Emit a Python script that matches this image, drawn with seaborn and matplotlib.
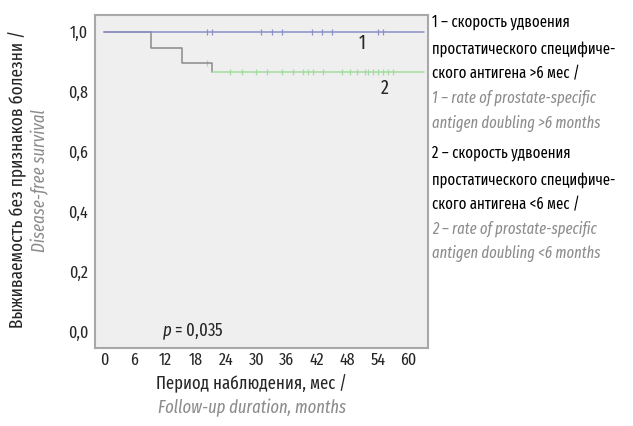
import matplotlib
matplotlib.use("Agg")
import matplotlib.pyplot as plt
import seaborn as sns

# group 1: PSA doubling > 6 months (no events)
g1_time = [0, 63]
g1_surv = [1.0, 1.0]
g1_censor = [20.3, 21.3, 31, 33, 35, 41, 43, 45, 54, 55]

# group 2: PSA doubling < 6 months
g2_time = [0, 9.3, 15.4, 21.3]
g2_surv = [1.0, 0.947, 0.897, 0.867]
g2_tail_time = [21.3, 63]
g2_tail_surv = [0.867, 0.867]
g2_censor_time = [20.3, 24.8, 27.2, 30, 32, 35, 37.2, 39.2, 40.2, 41.1, 43.1,
                  46.8, 48.4, 49.8, 51.4, 52, 53, 54, 55, 56, 57]
g2_censor_surv = [0.897] + [0.867] * 20

x_ticks = [0, 6, 12, 18, 24, 30, 36, 42, 48, 54, 60]
y_ticks = [0.0, 0.2, 0.4, 0.6, 0.8, 1.0]
y_labels = ["0,0", "0,2", "0,4", "0,6", "0,8", "1,0"]

legend_lines = [
    ("1 – скорость удвоения", False),
    ("простатического специфиче-", False),
    ("ского антигена >6 мес /", False),
    ("1 – rate of prostate-specific", True),
    ("antigen doubling >6 months", True),
    ("2 – скорость удвоения", False),
    ("простатического специфиче-", False),
    ("ского антигена <6 мес /", False),
    ("2 – rate of prostate-specific", True),
    ("antigen doubling <6 months", True),
]

sns.set_style("white")
FONT = "Fira Sans Extra Condensed"
plt.rcParams["font.family"] = [FONT, "DejaVu Sans"]
plt.rcParams["mathtext.fontset"] = "custom"
plt.rcParams["mathtext.it"] = FONT + ":italic"
plt.rcParams["mathtext.rm"] = FONT

BLUE = "#8a90c8"
GREEN = "#a3dca0"
GRAY = "#8a8a8a"
TXT_GRAY = "#8c8c8c"
FS = 13
LEG_FS = 11.5

fig = plt.figure(figsize=(6.33, 4.26), dpi=100)
ax = fig.add_axes([0.150, 0.183, 0.526, 0.782])
ax.set_facecolor("#efefef")

sns.lineplot(x=g2_time + [g2_tail_time[0]], y=g2_surv + [g2_tail_surv[0]],
             drawstyle="steps-post", color=GRAY, lw=1.1, ax=ax)
sns.lineplot(x=g2_tail_time, y=g2_tail_surv, drawstyle="steps-post",
             color=GREEN, lw=1.1, ax=ax)
sns.lineplot(x=g1_time, y=g1_surv, drawstyle="steps-post", color=BLUE,
             lw=1.1, ax=ax)
sns.scatterplot(x=g1_censor, y=[1.0] * len(g1_censor), marker="|", s=25,
                color=BLUE, linewidth=0.9, ax=ax)
sns.scatterplot(x=g2_censor_time, y=g2_censor_surv, marker="|", s=25,
                color=GREEN, linewidth=0.9, ax=ax)

ax.set_xlim(-1.8, 63.8)
ax.set_ylim(-0.053, 1.057)
ax.set_xticks(x_ticks)
ax.set_xticklabels([str(t) for t in x_ticks])
ax.set_yticks(y_ticks)
ax.set_yticklabels(y_labels)
ax.tick_params(axis="both", labelsize=FS - 0.5, length=3, width=0.8,
               color=GRAY, pad=2)
ax.tick_params(axis="x", length=0, pad=3)
for s in ax.spines.values():
    s.set_color("#a8a8a8")
    s.set_linewidth(1.5)
ax.set_xlabel("")
ax.set_ylabel("")

ax.text(50.8, 0.962, "1", fontsize=FS + 1, ha="center", va="center")
ax.text(55.3, 0.813, "2", fontsize=FS + 1, ha="center", va="center")
ax.text(11.4, 0.0, "$p$ = 0,035", fontsize=FS, ha="left", va="center")

# axis titles
fig.text(0.028, 0.58, "Выживаемость без признаков болезни /", rotation=90,
         ha="center", va="center", fontsize=FS + 0.5)
fig.text(0.063, 0.575, "Disease-free survival", rotation=90, ha="center",
         va="center", fontsize=FS, style="italic", color=TXT_GRAY)
fig.text(0.398, 0.100, "Период наблюдения, мес /", ha="center", va="center",
         fontsize=FS)
fig.text(0.398, 0.043, "Follow-up duration, months", ha="center",
         va="center", fontsize=FS, style="italic", color=TXT_GRAY)

# legend text block
ys = [22, 49, 74, 98, 123, 153, 180, 205, 229, 254]
for (line, italic), yp in zip(legend_lines, ys):
    fig.text(432 / 633, 1 - yp / 426, line, ha="left", va="center",
             fontsize=LEG_FS, style="italic" if italic else "normal",
             color=TXT_GRAY if italic else "black")

fig.savefig("out.png", dpi=100)
